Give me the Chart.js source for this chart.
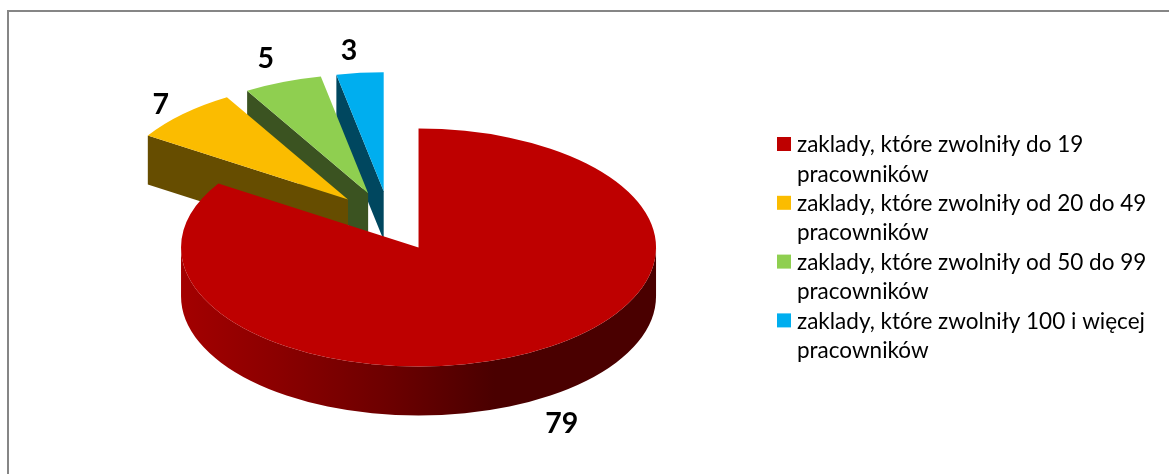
<!DOCTYPE html>
<html>
<head>
<meta charset="utf-8">
<title>Zaklady</title>
<script src="https://cdn.jsdelivr.net/npm/chart.js@4/dist/chart.umd.min.js"></script>
<style>
html, body { margin: 0; padding: 0; background: #fff; }
#wrap { position: relative; width: 1169px; height: 474px; overflow: hidden; }
#frame { position: absolute; left: 7px; top: 10px; width: 1170px; height: 480px; border: 2px solid #868686; box-sizing: border-box; }
canvas { position: absolute; left: 0; top: 0; }
</style>
</head>
<body>
<div id="wrap">
<div id="frame"></div>
<canvas id="chart" width="1169" height="474"></canvas>
</div>
<script>
var categories = [
    ['zaklady, które zwolniły do 19', 'pracowników'],
    ['zaklady, które zwolniły od 20 do 49', 'pracowników'],
    ['zaklady, które zwolniły od 50 do 99', 'pracowników'],
    ['zaklady, które zwolniły 100 i więcej', 'pracowników']
];
var values = [79, 7, 5, 3];
var topColors = ['#BE0000', '#FBBC00', '#8FCF50', '#00AEEF'];
var wallColors = ['#4A0000', '#664D00', '#3B5321', '#00475F'];

var SQUASH = 0.501;
var DEPTH = 49;

function slicePoint(arc, angle, radius) {
    var off = arc.options.offset;
    var mid = (arc.startAngle + arc.endAngle) / 2;
    return {
        x: arc.x + Math.cos(mid) * off + Math.cos(angle) * radius,
        y: arc.y + (Math.sin(mid) * off + Math.sin(angle) * radius) * SQUASH
    };
}

function outlineArc(ctx, arc, from, to, dy, ccw) {
    var mid = (arc.startAngle + arc.endAngle) / 2;
    var off = arc.options.offset;
    ctx.ellipse(arc.x + Math.cos(mid) * off, arc.y + Math.sin(mid) * off * SQUASH + dy,
        arc.outerRadius, arc.outerRadius * SQUASH, 0, from, to, ccw);
}

function drawWall(ctx, arc, angle) {
    var apex = slicePoint(arc, 0, 0);
    var rim = slicePoint(arc, angle, arc.outerRadius);
    ctx.beginPath();
    ctx.moveTo(apex.x, apex.y);
    ctx.lineTo(rim.x, rim.y);
    ctx.lineTo(rim.x, rim.y + DEPTH);
    ctx.lineTo(apex.x, apex.y + DEPTH);
    ctx.closePath();
    ctx.fill();
}

// the pie is flattened here, arcs come from the chart's own layout
var pie3d = {
    id: 'pie3d',
    beforeDatasetsDraw: function(chart) {
        var ctx = chart.ctx;
        var arcs = chart.getDatasetMeta(0).data;
        // back to front, the big slice goes last
        for (var i = arcs.length - 1; i >= 0; i--) {
            var arc = arcs[i];
            ctx.save();
            ctx.fillStyle = wallColors[i];
            if (Math.cos(arc.startAngle) < -0.001) { drawWall(ctx, arc, arc.startAngle); }
            if (Math.cos(arc.endAngle) > 0.001) { drawWall(ctx, arc, arc.endAngle); }

            var from = Math.max(arc.startAngle, 0);
            var to = Math.min(arc.endAngle, Math.PI);
            if (to > from) {
                var grad = ctx.createLinearGradient(arc.x - arc.outerRadius, 0, arc.x + arc.outerRadius, 0);
                grad.addColorStop(0.06, '#A30000');
                grad.addColorStop(0.27, '#8A0000');
                grad.addColorStop(0.5, '#6C0000');
                grad.addColorStop(0.72, wallColors[i]);
                grad.addColorStop(1, wallColors[i]);
                ctx.fillStyle = grad;
                ctx.beginPath();
                outlineArc(ctx, arc, from, to, 0, false);
                outlineArc(ctx, arc, to, from, DEPTH, true);
                ctx.closePath();
                ctx.fill();
            }

            var apex = slicePoint(arc, 0, 0);
            ctx.fillStyle = arc.options.backgroundColor;
            ctx.beginPath();
            ctx.moveTo(apex.x, apex.y);
            outlineArc(ctx, arc, arc.startAngle, arc.endAngle, 0, false);
            ctx.closePath();
            ctx.fill();
            ctx.restore();
        }
        return false;
    },
    afterDraw: function(chart) {
        var ctx = chart.ctx;
        var arcs = chart.getDatasetMeta(0).data;
        var shifts = [[29, 72], [-22, -9], [-17, -23], [-11, -22]];

        ctx.save();
        ctx.fillStyle = '#000';
        ctx.textAlign = 'center';
        ctx.textBaseline = 'middle';
        ctx.font = 'bold 28.5px Lato';
        arcs.forEach(function(arc, i) {
            var mid = (arc.startAngle + arc.endAngle) / 2;
            var rim = slicePoint(arc, mid, arc.outerRadius);
            ctx.fillText(values[i], rim.x + shifts[i][0], rim.y + shifts[i][1]);
        });

        // legend, two lines per entry with the box next to the first one
        ctx.textAlign = 'left';
        ctx.font = '22.5px Lato';
        var y = 145;
        categories.forEach(function(lines, i) {
            ctx.fillStyle = topColors[i];
            ctx.fillRect(777, y - 8, 14, 14);
            ctx.fillStyle = '#000';
            lines.forEach(function(line) {
                ctx.fillText(line, 797, y);
                y += 29.4;
            });
        });
        ctx.restore();
    }
};

new Chart(document.getElementById('chart'), {
    type: 'pie',
    data: {
        labels: categories,
        datasets: [{
            data: values,
            backgroundColor: topColors,
            borderWidth: 0,
            offset: 60,
            radius: 237.5
        }]
    },
    options: {
        responsive: false,
        animation: false,
        layout: { padding: { left: 0, right: 389.6, top: 1, bottom: 32.6 } },
        plugins: {
            legend: { display: false },
            tooltip: { enabled: false }
        }
    },
    plugins: [pie3d]
});
</script>
</body>
</html>
